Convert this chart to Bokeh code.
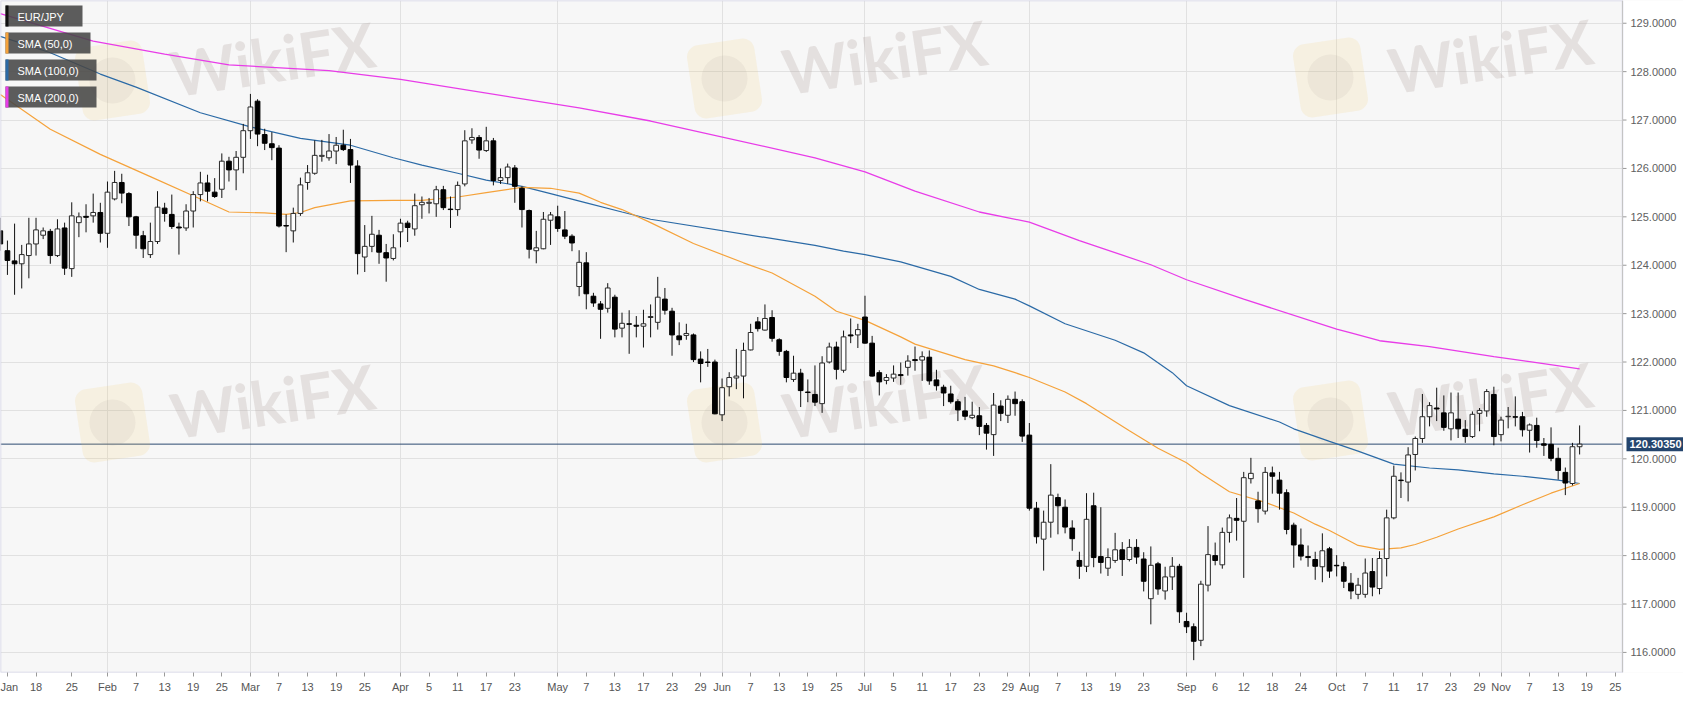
import numpy as np
import pandas as pd
from bokeh.plotting import figure
from bokeh.models import Range1d, FixedTicker, Span, Label, NumeralTickFormatter
from bokeh.core.properties import value
from bokeh.embed import file_html
from bokeh.resources import INLINE

# ---------------- data (EUR/JPY daily) ----------------
first_day = "2019-01-11"
last_axis_day = "2019-11-29"

opens = [
    124.71,124.30,124.09,124.03,124.20,124.44,124.62,124.70,124.20,124.77,
    123.93,124.88,125.01,125.02,125.09,124.66,125.37,125.71,125.48,125.00,
    124.61,124.22,124.49,125.18,125.05,124.79,124.77,125.12,125.46,125.70,
    125.51,125.57,126.15,125.97,126.23,126.78,127.39,126.70,126.51,126.42,
    124.82,124.71,125.07,125.71,125.90,126.25,126.22,126.36,126.48,126.39,
    126.05,124.17,124.39,124.62,124.26,124.14,124.69,124.87,124.75,125.25,
    125.28,125.27,125.56,125.16,125.15,125.68,126.59,126.64,126.37,126.57,
    125.75,125.81,126.01,125.59,125.13,124.30,124.34,124.93,125.00,124.73,
    124.60,123.56,124.05,123.36,123.20,123.11,123.34,122.70,122.79,122.76,
    122.74,122.92,122.82,123.30,123.05,122.54,122.55,122.56,122.06,122.00,
    122.00,120.91,121.49,121.67,121.71,122.25,122.83,122.66,122.92,122.46,
    122.22,121.64,121.77,121.38,121.33,121.14,122.00,122.31,121.83,122.56,
    122.56,122.93,122.39,121.78,121.62,121.67,121.74,121.89,122.05,122.04,
    122.10,121.63,121.48,121.34,121.18,120.99,120.85,120.89,120.69,120.50,
    121.09,120.90,121.23,121.18,120.49,118.98,118.34,118.69,119.20,119.00,
    118.57,117.90,117.78,119.03,117.98,117.74,117.90,118.12,117.92,118.17,
    117.93,117.11,117.83,117.27,117.56,117.78,116.64,116.53,116.25,117.39,
    118.00,117.81,118.48,118.77,118.71,119.59,119.13,118.92,119.71,119.56,
    119.30,118.63,118.22,117.98,117.92,117.77,118.14,117.80,117.77,117.43,
    117.20,117.20,117.67,117.32,117.94,118.78,119.56,119.52,120.09,120.42,
    120.87,121.05,120.95,120.62,120.82,120.61,120.46,120.94,120.99,121.33,
    120.50,120.87,120.87,120.87,120.59,120.69,120.31,120.30,120.01,119.72,
    119.49,120.25,
]
highs = [
    124.98,124.51,124.86,124.42,124.98,124.98,124.78,124.75,124.95,124.88,
    125.30,125.09,125.26,125.48,125.29,125.73,125.95,125.89,125.51,125.02,
    124.71,124.88,125.53,125.29,125.46,124.88,125.26,125.53,125.93,125.87,
    125.80,126.31,126.24,126.36,126.92,127.54,127.43,126.82,126.75,126.48,
    125.05,125.19,125.81,126.07,126.58,126.59,126.71,126.65,126.80,126.61,
    126.17,124.83,125.02,124.73,124.44,124.64,124.96,124.92,125.48,125.42,
    125.39,125.64,125.64,125.42,125.73,126.79,126.83,126.69,126.86,126.63,
    126.00,126.10,126.07,125.63,125.15,124.71,125.10,125.10,125.23,125.12,
    124.64,124.31,124.27,123.43,123.26,123.63,123.39,123.02,123.07,122.95,
    123.08,123.19,123.76,123.53,123.12,122.82,122.79,122.59,122.22,122.27,
    122.05,121.66,121.79,122.27,122.40,122.79,122.93,123.19,123.07,122.49,
    122.25,122.13,121.86,121.64,121.93,122.12,122.40,122.42,122.65,122.90,
    122.79,123.37,122.54,121.83,121.75,121.93,121.99,122.14,122.32,122.22,
    122.24,121.84,121.53,121.51,121.23,121.28,121.18,121.07,120.74,121.36,
    121.21,121.31,121.39,121.23,120.74,119.11,118.93,119.89,119.28,119.16,
    118.73,118.08,119.29,119.30,119.00,118.15,118.47,118.28,118.34,118.34,
    118.07,118.19,117.87,117.77,117.97,117.83,116.82,116.60,117.48,118.61,
    118.27,118.58,118.85,119.19,119.73,120.02,119.32,119.83,119.84,119.73,
    119.37,118.68,118.56,118.21,118.08,118.46,118.18,118.01,117.87,117.64,
    117.54,117.94,117.95,118.09,118.95,119.86,119.72,120.24,120.46,121.34,
    121.17,121.47,121.31,121.37,121.37,120.80,120.98,121.05,121.44,121.49,
    120.87,121.07,121.29,120.97,120.73,120.85,120.43,120.65,120.23,119.82,
    120.33,120.69,
]
lows = [
    124.30,123.80,123.39,123.52,123.73,124.20,124.54,124.03,124.17,123.80,
    123.76,124.58,124.68,124.88,124.47,124.36,125.34,125.28,124.81,124.34,
    124.15,124.15,124.44,124.90,124.75,124.22,124.71,124.78,125.32,125.32,
    125.39,125.39,125.73,125.55,125.90,126.61,126.46,126.38,126.17,124.78,
    124.27,124.47,125.02,125.56,125.87,126.14,126.16,126.09,126.36,125.70,
    123.81,123.86,124.27,124.03,123.66,124.10,124.37,124.48,124.61,124.96,
    125.07,125.00,125.14,124.77,125.02,125.63,126.51,126.20,126.34,125.65,
    125.68,125.68,125.29,124.78,124.14,124.04,124.33,124.42,124.69,124.54,
    124.29,123.36,123.09,123.14,122.48,123.02,122.51,122.51,122.17,122.51,
    122.30,122.51,122.67,122.98,122.13,122.35,122.46,122.00,121.58,121.90,
    120.92,120.78,121.29,121.44,121.25,122.24,122.63,122.65,122.42,122.13,
    121.58,121.59,121.07,121.17,121.09,120.95,121.97,121.64,121.78,122.39,
    122.29,122.38,121.70,121.31,121.54,121.59,121.53,121.72,121.82,121.61,
    121.53,121.41,121.09,121.14,120.78,120.80,120.82,120.49,120.19,120.06,
    120.78,120.74,120.89,120.35,118.93,118.25,117.69,118.37,118.44,118.46,
    118.10,117.52,117.66,117.76,117.63,117.58,117.85,117.58,117.88,117.83,
    117.26,116.58,117.19,117.09,117.29,116.61,116.40,115.84,116.13,117.26,
    117.80,117.73,118.27,118.31,117.54,119.49,118.68,118.85,119.28,118.95,
    118.44,117.75,117.90,117.77,117.50,117.45,117.54,117.57,117.33,117.10,
    117.10,117.13,117.16,117.20,117.57,118.75,119.19,119.12,119.76,120.33,
    120.67,120.78,120.58,120.38,120.43,120.33,120.43,120.57,120.87,120.28,
    120.36,120.63,120.67,120.46,120.13,120.23,120.06,119.95,119.57,119.25,
    119.45,120.09,
]
closes = [
    124.44,124.10,124.03,124.22,124.44,124.73,124.71,124.20,124.75,123.94,
    125.02,125.00,124.99,125.09,124.66,125.51,125.71,125.49,125.00,124.62,
    124.34,124.49,125.20,125.07,124.80,124.77,125.12,125.46,125.70,125.53,
    125.42,126.15,125.97,126.23,126.78,127.27,126.71,126.52,126.43,124.81,
    124.81,125.07,125.66,125.91,126.27,126.27,126.36,126.48,126.39,126.07,
    124.24,124.39,124.64,124.27,124.15,124.36,124.87,124.78,125.23,125.30,
    125.30,125.56,125.19,125.15,125.65,126.57,126.64,126.38,126.57,125.75,
    125.81,126.03,125.63,125.15,124.33,124.36,124.95,125.04,124.76,124.60,
    124.46,124.06,123.41,123.22,123.09,123.53,122.68,122.80,122.78,122.74,
    122.79,122.94,123.34,123.07,122.56,122.46,122.59,122.05,121.97,121.99,
    120.93,121.47,121.68,121.71,122.24,122.61,122.69,122.90,122.49,122.22,
    121.68,121.77,121.41,121.37,121.17,121.98,122.31,121.85,122.52,122.54,
    122.67,122.39,121.71,121.59,121.68,121.75,121.72,122.02,122.03,122.11,
    121.61,121.51,121.36,121.18,121.01,120.88,120.90,120.67,120.53,121.11,
    120.94,121.23,121.14,120.47,118.98,118.39,118.69,119.25,119.03,118.59,
    118.35,117.78,118.75,117.96,117.86,117.96,118.12,117.92,118.17,117.97,
    117.47,117.80,117.31,117.56,117.78,116.84,116.53,116.23,117.41,118.02,
    117.90,118.48,118.78,118.73,119.61,119.70,118.97,119.72,119.64,119.29,
    118.54,118.22,117.99,117.96,117.78,118.10,117.68,117.79,117.47,117.27,
    117.39,117.64,117.35,117.94,118.78,119.64,119.55,120.08,120.42,120.87,
    121.10,121.03,120.65,120.95,120.62,120.46,120.92,121.00,121.39,120.46,
    120.80,120.88,120.86,120.60,120.70,120.38,120.28,120.01,119.76,119.50,
    120.25,120.3035,
]

# moving averages (bar number from first_day, value)
sma50_bar = [0, 7, 14, 21, 28, 32, 37, 40, 42, 44, 49, 55, 59, 64, 68, 73, 77, 81, 84, 87,
             91, 97, 104, 108, 114, 117, 121, 126, 128, 135, 139, 142, 144, 149, 152, 158,
             160, 162, 166, 168, 172, 177, 181, 184, 186, 190, 193, 196, 198, 201, 204,
             209, 213, 217, 221]
sma50_val = [127.53, 126.81, 126.29, 125.83, 125.37, 125.10, 125.08, 125.05, 125.09, 125.19,
             125.33, 125.34, 125.34, 125.41, 125.50, 125.61, 125.59, 125.49, 125.30, 125.15,
             124.88, 124.45, 124.05, 123.84, 123.36, 123.05, 122.86, 122.52, 122.37, 122.05,
             121.92, 121.78, 121.68, 121.38, 121.14, 120.58, 120.40, 120.22, 119.92, 119.70,
             119.32, 119.10, 118.88, 118.65, 118.52, 118.21, 118.13, 118.16, 118.23, 118.38,
             118.55, 118.80, 119.05, 119.29, 119.49]
sma100_bar = [0, 7, 14, 19, 28, 35, 42, 49, 55, 59, 64, 68, 73, 77, 82, 87, 91, 114, 118, 121,
              126, 133, 137, 142, 144, 149, 156, 160, 164, 166, 172, 179, 181, 186, 190, 195,
              200, 204, 209, 213, 218, 221]
sma100_val = [128.73, 128.39, 127.95, 127.68, 127.15, 126.86, 126.62, 126.48, 126.22, 126.07,
              125.90, 125.76, 125.63, 125.48, 125.29, 125.10, 124.95, 124.41, 124.29, 124.22,
              124.07, 123.77, 123.50, 123.30, 123.16, 122.79, 122.45, 122.19, 121.78, 121.51,
              121.10, 120.76, 120.62, 120.36, 120.16, 119.89, 119.81, 119.77, 119.69, 119.64,
              119.56, 119.49]
sma200_bar = [0, 13, 23, 32, 46, 56, 81, 91, 114, 121, 128, 137, 144, 151, 161, 166, 174, 187,
              189, 193, 200, 209, 214, 221]
sma200_val = [129.20, 128.63, 128.36, 128.14, 128.02, 127.84, 127.25, 126.98, 126.22, 125.93,
              125.53, 125.10, 124.89, 124.51, 124.01, 123.70, 123.30, 122.68, 122.60, 122.44,
              122.32, 122.11, 122.01, 121.86]

tick_dates = ["2019-01-14", "2019-01-18", "2019-01-25", "2019-02-01", "2019-02-07", "2019-02-13",
              "2019-02-19", "2019-02-25", "2019-03-01", "2019-03-07", "2019-03-13", "2019-03-19",
              "2019-03-25", "2019-04-01", "2019-04-05", "2019-04-11", "2019-04-17", "2019-04-23",
              "2019-05-01", "2019-05-07", "2019-05-13", "2019-05-17", "2019-05-23", "2019-05-29",
              "2019-06-03", "2019-06-07", "2019-06-13", "2019-06-19", "2019-06-25", "2019-07-01",
              "2019-07-05", "2019-07-11", "2019-07-17", "2019-07-23", "2019-07-29", "2019-08-01",
              "2019-08-07", "2019-08-13", "2019-08-19", "2019-08-23", "2019-09-02", "2019-09-06",
              "2019-09-12", "2019-09-18", "2019-09-24", "2019-10-01", "2019-10-07", "2019-10-11",
              "2019-10-17", "2019-10-23", "2019-10-29", "2019-11-01", "2019-11-07", "2019-11-13",
              "2019-11-19", "2019-11-25"]
tick_labels = ["Jan", "18", "25", "Feb", "7", "13", "19", "25", "Mar", "7", "13", "19", "25",
               "Apr", "5", "11", "17", "23", "May", "7", "13", "17", "23", "29", "Jun", "7", "13",
               "19", "25", "Jul", "5", "11", "17", "23", "29", "Aug", "7", "13", "19", "23",
               "Sep", "6", "12", "18", "24", "Oct", "7", "11", "17", "23", "29", "Nov", "7", "13",
               "19", "25"]
month_grid_dates = ["2019-02-01", "2019-03-01", "2019-04-01", "2019-05-01", "2019-06-03",
                    "2019-07-01", "2019-08-01", "2019-09-02", "2019-10-01", "2019-11-01"]
price_ticks = list(range(116, 130))

legend_names = ["EUR/JPY", "SMA (50,0)", "SMA (100,0)", "SMA (200,0)"]
c50, c100, c200 = "#f5a23a", "#2b6aa6", "#e83ce8"
legend_colors = ["#111111", c50, c100, c200]
watermark_text = "WikiFX"

assert len(opens) == len(highs) == len(lows) == len(closes)

# ---------------- build ----------------
calendar = pd.bdate_range(first_day, last_axis_day)
pos = {d.strftime("%Y-%m-%d"): i for i, d in enumerate(calendar)}
bars = np.arange(len(opens))

o = np.array(opens); h = np.array(highs); l = np.array(lows); c = np.array(closes)
up = c >= o

# the frame spans the whole width; the price scale strip sits inside its right end
PLOT_W = 1622                     # pixels of the chart area
FW, FH = 1683, 672
X0, XA = 0.03, 227.0              # data range of the chart area (XA = price-scale line)
X1 = X0 + FW * (XA - X0) / PLOT_W
Y0, Y1 = 115.585, 129.47
STRIP = FW - PLOT_W

p = figure(frame_width=FW, frame_height=FH, x_range=Range1d(X0, X1), y_range=Range1d(Y0, Y1),
           output_backend="svg", toolbar_location=None, y_axis_location="right",
           min_border_left=0, min_border_top=0, min_border_bottom=0, min_border_right=0)
p.background_fill_color = "#f7f7f7"
p.border_fill_color = "white"
p.outline_line_color = None

FONT = "Liberation Sans"
# price axis: labels drawn back over the strip at the right end of the frame
p.yaxis.ticker = FixedTicker(ticks=price_ticks)
p.yaxis.formatter = NumeralTickFormatter(format="0.0000")
p.yaxis.major_label_text_font = FONT
p.yaxis.major_label_text_font_size = "11px"
p.yaxis.major_label_text_color = "#606060"
p.yaxis.axis_line_color = None
p.yaxis.major_tick_line_color = None
p.yaxis.major_tick_out = 0
p.yaxis.major_tick_in = 0
p.yaxis.minor_tick_line_color = None
p.yaxis.major_label_standoff = -(STRIP - 8)

tick_pos = [pos[d] for d in tick_dates]
p.xaxis.ticker = FixedTicker(ticks=tick_pos)
p.xaxis.major_label_overrides = {t: lab for t, lab in zip(tick_pos, tick_labels)}
p.xaxis.major_label_text_font = FONT
p.xaxis.major_label_text_font_size = "11px"
p.xaxis.major_label_text_color = "#555555"
p.xaxis.axis_line_color = None
p.xaxis.major_tick_line_color = "#9a9a9a"
p.xaxis.major_tick_out = 4
p.xaxis.major_tick_in = 0
p.xaxis.minor_tick_line_color = None
p.xaxis.major_label_standoff = 4

p.xgrid.ticker = FixedTicker(ticks=[pos[d] for d in month_grid_dates])
p.xgrid.grid_line_color = "#e1e1e1"
p.ygrid.grid_line_color = "#e1e1e1"


# helpers: pixel offsets from the frame's top-left corner -> data coordinates
def fx(px):
    return X0 + px * (X1 - X0) / FW


def fy(py):
    return Y1 - py * (Y1 - Y0) / FH


# faint watermarks (logo tile + word), as in the reference picture
wm_cx = [272, 884, 1490, 272, 884, 1490]
wm_cy = [58, 56, 55, 400, 400, 398]
p.rect(x=[fx(v - 160) for v in wm_cx], y=[fy(v + 22) for v in wm_cy], width=68, height=74,
       width_units="screen", height_units="screen", angle=0.15, fill_color="#f2cf72",
       fill_alpha=0.16, line_color=None, border_radius=12)
p.circle(x=[fx(v - 160) for v in wm_cx], y=[fy(v + 22) for v in wm_cy], radius=23,
         radius_units="screen", fill_color="#9c8f88", fill_alpha=0.10, line_color=None)
p.text(x=[fx(v) for v in wm_cx], y=[fy(v) for v in wm_cy], text=[watermark_text] * 6,
       angle=0.15, text_color="#b3a7a1", text_alpha=0.28, text_font=value("Lato"),
       text_font_style="bold", text_font_size="62px", text_align="center",
       text_baseline="middle")

# last price line
last = closes[-1]
p.add_layout(Span(location=last, dimension="width", line_color="#2c4a70", line_width=1,
                  level="underlay"))

# moving averages
p.line(sma200_bar, sma200_val, line_color=c200, line_width=1.3)
p.line(sma100_bar, sma100_val, line_color=c100, line_width=1.2)
p.line(sma50_bar, sma50_val, line_color=c50, line_width=1.2)

# candles
p.segment(x0=bars, y0=l, x1=bars, y1=h, line_color="#111111", line_width=1)
p.vbar(x=bars[up], width=0.66, top=c[up], bottom=o[up], fill_color="white",
       line_color="#2a2a2a", line_width=1)
p.vbar(x=bars[~up], width=0.66, top=o[~up], bottom=c[~up], fill_color="black",
       line_color="black", line_width=1)

# price-scale strip: white background, scale line and small ticks
p.quad(left=[XA], right=[X1], top=[Y1], bottom=[Y0], fill_color="white", line_color=None)
p.quad(left=[X0], right=[XA], top=[Y1], bottom=[Y0], fill_color=None,
       line_color="#d3d3e6", line_width=1.5)
p.add_layout(Span(location=XA, dimension="height", line_color="#c4c4c4", line_width=1))
p.segment(x0=[XA] * len(price_ticks), x1=[fx(PLOT_W + 4)] * len(price_ticks),
          y0=price_ticks, y1=price_ticks, line_color="#9a9a9a", line_width=1)

# legend boxes
box_top = [5, 32, 59, 86]
box_w = [77, 85, 91, 91]
box_h = 21
p.quad(left=[fx(5)] * 4, right=[fx(5 + w) for w in box_w],
       top=[fy(t) for t in box_top], bottom=[fy(t + box_h) for t in box_top],
       fill_color="#474747", fill_alpha=0.88, line_color=None)
p.quad(left=[fx(5)] * 4, right=[fx(8)] * 4,
       top=[fy(t) for t in box_top], bottom=[fy(t + box_h) for t in box_top],
       fill_color=legend_colors, line_color=None)
p.text(x=[fx(17)] * 4, y=[fy(t + box_h / 2 + 0.5) for t in box_top], text=legend_names,
       text_color="white", text_font=value(FONT), text_font_size="11px",
       text_baseline="middle", text_align="left")

# last price tag on the price scale
p.add_layout(Label(x=XA, y=last, x_units="data", y_units="data", x_offset=4,
                   text=f"{last:.5f}", text_color="white", text_font=FONT,
                   text_font_size="11px", text_font_style="bold",
                   text_baseline="middle", text_align="left",
                   background_fill_color="#24456d", background_fill_alpha=1.0,
                   padding=3, level="overlay"))

open("out.html", "w").write(file_html(p, INLINE))
